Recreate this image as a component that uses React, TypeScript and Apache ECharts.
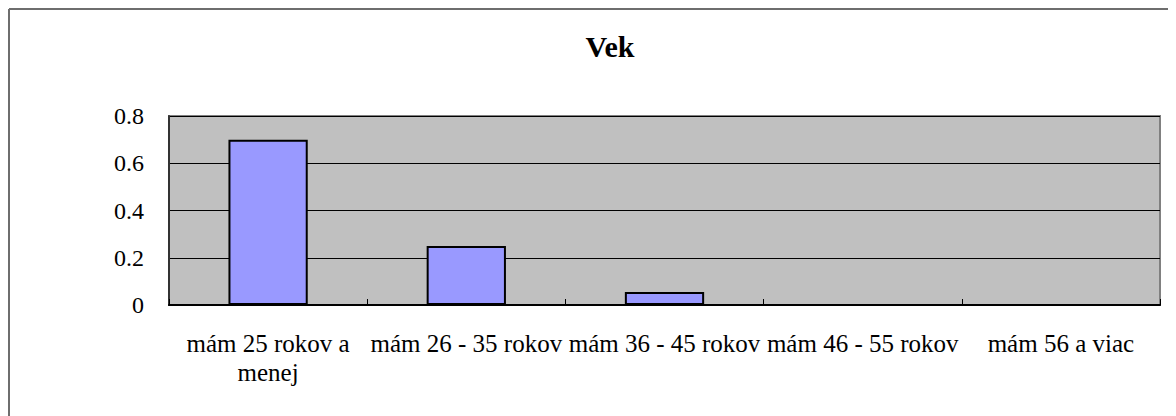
import React, { useEffect, useRef } from "react";
import * as echarts from "echarts";

const title = "Vek";
const categories = [
  "mám 25 rokov a menej",
  "mám 26 - 35 rokov",
  "mám 36 - 45 rokov",
  "mám 46 - 55 rokov",
  "mám 56 a viac",
];
const values = [0.7, 0.25, 0.055, 0, 0];
const yTicks = { min: 0, max: 0.8, interval: 0.2 };

const FONT = "Liberation Serif";

export default function App() {
  const ref = useRef<HTMLDivElement>(null);
  useEffect(() => {
    if (!ref.current) return;
    const chart = echarts.init(ref.current, null, { renderer: "svg" });
    chart.setOption({
      animation: false,
      backgroundColor: "#ffffff",
      textStyle: { fontFamily: FONT },
      title: {
        text: title,
        left: 597,
        top: 18,
        textAlign: "center",
        textStyle: { fontFamily: FONT, fontSize: 30, fontWeight: "bold", color: "#000" },
      },
      graphic: [
        { type: "line", shape: { x1: 1, y1: 1, x2: 3000, y2: 1 }, style: { stroke: "#6e6e6e", lineWidth: 2 } },
        { type: "line", shape: { x1: 1, y1: 1, x2: 1, y2: 3000 }, style: { stroke: "#6e6e6e", lineWidth: 2 } },
      ],
      grid: {
        left: 161,
        top: 108,
        right: 16,
        bottom: 111,
        show: true,
        backgroundColor: "#c0c0c0",
        borderColor: "#808080",
        borderWidth: 2,
      },
      xAxis: {
        type: "category",
        data: categories,
        axisLine: { show: true, lineStyle: { color: "#000", width: 2 } },
        axisTick: { show: true, inside: true, length: 6, alignWithLabel: false, lineStyle: { color: "#000" } },
        axisLabel: {
          interval: 0,
          margin: 24,
          fontFamily: FONT,
          fontSize: 25,
          lineHeight: 29,
          color: "#000",
          formatter: (v: string) => (v === categories[0] ? "mám 25 rokov a\nmenej" : v),
        },
      },
      yAxis: {
        type: "value",
        min: yTicks.min,
        max: yTicks.max,
        interval: yTicks.interval,
        axisLine: { show: true, lineStyle: { color: "#333", width: 2 } },
        axisTick: { show: false },
        splitLine: { show: true, lineStyle: { color: "#000", width: 1 } },
        axisLabel: { margin: 25, fontFamily: FONT, fontSize: 24, color: "#000" },
      },
      series: [
        {
          type: "bar",
          data: values,
          barWidth: "40%",
          itemStyle: { color: "#9999ff", borderColor: "#000", borderWidth: 2 },
        },
      ],
    });
    return () => chart.dispose();
  }, []);
  return <div ref={ref} style={{ width: 1168, height: 408 }} />;
}
